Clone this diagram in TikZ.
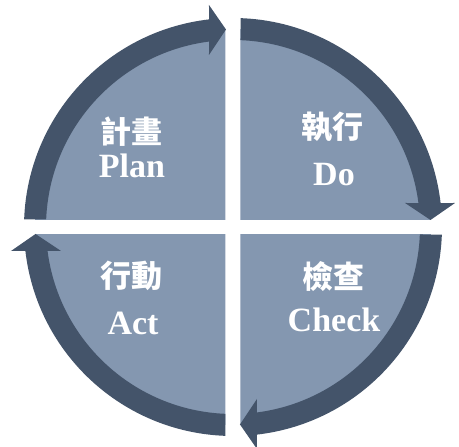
\documentclass[tikz,border=0pt]{standalone}
\usepackage{fontspec}
\setmainfont{Liberation Serif}
\newfontfamily\cjk{Noto Sans CJK TC}
\definecolor{ringc}{HTML}{44546A}
\definecolor{fillc}{HTML}{8497B0}
\tikzset{
  ringseg/.style={fill=ringc},
  quad/.style={fill=fillc},
  zh/.style={text=white, inner sep=0pt, font=\cjk\bfseries\fontsize{31}{31}\selectfont},
  en/.style={text=white, inner sep=0pt, anchor=base, font=\bfseries\fontsize{34}{34}\selectfont}
}
\begin{document}
\begin{tikzpicture}[x=1pt,y=1pt]
\useasboundingbox (-233,-220) rectangle (226,227);
\foreach \k in {0,1,2,3}{
  \begin{scope}[rotate=-90*\k]
    \begin{scope}
      \clip (-7.5,7.5) rectangle (-250,250);
      \fill[quad] (0,0) circle (198);
    \end{scope}
  \end{scope}
}
\foreach \k in {0,1,2,3}{
  \begin{scope}[rotate=-90*\k]
    \fill[ringseg] (177.94:209) arc[start angle=177.94, end angle=96.59, radius=209]
      -- (-24,222) -- (-7,197.5) -- (-24,172)
      -- (97.37:187) arc[start angle=97.37, end angle=177.70, radius=187] -- cycle;
  \end{scope}
}
\node[zh] (planzh) at (-101,95) {計畫};
\node[en] (planen) at (-101,49) {Plan};
\node[zh] (dozh) at (100,100) {執行};
\node[en] (doen) at (101,41) {Do};
\node[zh] (checkzh) at (101,-50) {檢查};
\node[en] (checken) at (101,-105) {Check};
\node[zh] (actzh) at (-101,-49) {行動};
\node[en] (acten) at (-100,-108) {Act};
\end{tikzpicture}
\end{document}
